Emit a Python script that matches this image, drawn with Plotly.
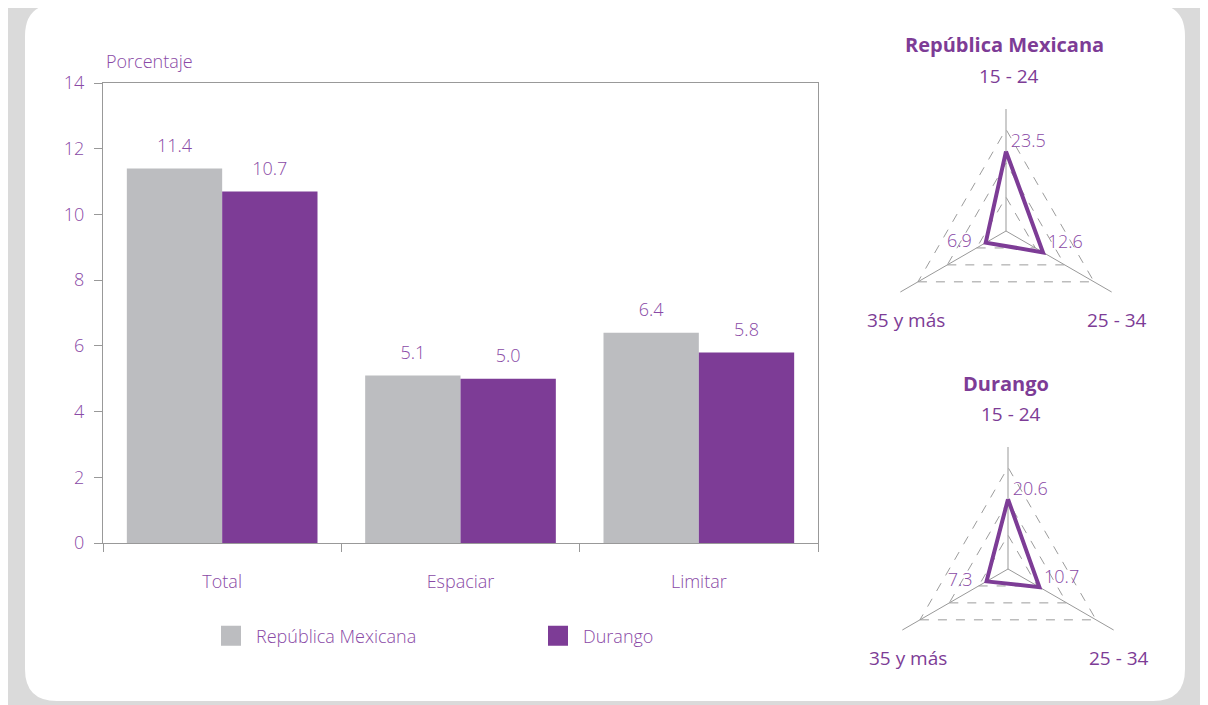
import plotly.graph_objects as go

# ---- data ----
categories = ["Total", "Espaciar", "Limitar"]
rep_mex = [11.4, 5.1, 6.4]
durango = [10.7, 5.0, 5.8]
series_names = ["República Mexicana", "Durango"]

radar_axes = ["15 - 24", "25 - 34", "35 y más"]
radar_rep = [23.5, 12.6, 6.9]
radar_dgo = [20.6, 10.7, 7.3]
radar_titles = ["República Mexicana", "Durango"]

y_ticks = [0, 2, 4, 6, 8, 10, 12, 14]

# ---- style ----
GRAY_BAR = "#bcbdc0"
PURPLE = "#7d3c96"
TXT = "#8a4aa6"
AXIS = "#999999"
FONT = "Open Sans"
W, H = 1208, 705
OFF = 8  # page offset of the figure inside the browser window
LIGHT = dict(family=FONT, size=18, color=TXT, weight=300)


def px(X):
    return (X - OFF) / W


def py(Y):
    return 1 - (Y - OFF) / H


fig = go.Figure()

# bars
for name, vals, col, og in [(series_names[0], rep_mex, GRAY_BAR, "a"),
                             (series_names[1], durango, PURPLE, "b")]:
    fig.add_trace(go.Bar(x=categories, y=vals, name=name, marker=dict(color=col, line=dict(width=0)),
                         offsetgroup=og, showlegend=False, hoverinfo="skip"))
# value labels (grouped scatter aligned with bars)
for vals, og in [(rep_mex, "a"), (durango, "b")]:
    fig.add_trace(go.Scatter(x=categories, y=vals, mode="markers+text", offsetgroup=og,
                             text=[f"{v:.1f}" for v in vals], textposition="top center",
                             textfont=LIGHT, marker=dict(size=18, opacity=0), showlegend=False,
                             hoverinfo="skip", cliponaxis=False))
# legend entries
for name, col in [(series_names[0], GRAY_BAR), (series_names[1], PURPLE)]:
    fig.add_trace(go.Scatter(x=[None], y=[None], mode="markers", name=name,
                             marker=dict(symbol="square", size=16, color=col, line=dict(color=col, width=4))))

# radars
centers = [(1006, 231), (1008, 569)]
R_PX = 122
domains = [dict(x=[px(cx - R_PX), px(cx + R_PX)], y=[py(cy + R_PX), py(cy - R_PX)]) for cx, cy in centers]
for i, vals in enumerate([radar_rep, radar_dgo]):
    pid = "polar" if i == 0 else "polar2"
    fig.add_trace(go.Scatterpolar(r=vals + [vals[0]], theta=radar_axes + [radar_axes[0]],
                                  mode="lines", line=dict(color=PURPLE, width=4),
                                  subplot=pid, showlegend=False, hoverinfo="skip"))
    fig.add_trace(go.Scatterpolar(r=vals, theta=radar_axes, mode="text",
                                  text=[f" {vals[0]:.1f}", f" {vals[1]:.1f}", f"{vals[2]:.1f}   "],
                                  textposition=["top right", "top right", "middle left"],
                                  textfont=LIGHT, subplot=pid, showlegend=False, hoverinfo="skip"))

polar_common = dict(
    bgcolor="rgba(0,0,0,0)",
    gridshape="linear",
    radialaxis=dict(range=[0, 36], tickvals=[10, 20, 30], showticklabels=False, ticks="",
                    showline=False, gridcolor="#9c9c9c", griddash="dash", gridwidth=1.1),
    angularaxis=dict(categoryorder="array", categoryarray=radar_axes, rotation=90,
                     direction="clockwise", showticklabels=False, ticks="", showline=False,
                     gridcolor=AXIS, gridwidth=1.4),
)

annotations = [
    dict(text="Porcentaje", x=px(104), y=py(61), xref="paper", yref="paper",
         xanchor="left", yanchor="middle", showarrow=False, font=LIGHT),
]
# radar titles and axis labels
for (cx, cy), title in zip(centers, radar_titles):
    annotations.append(dict(text=f"<b>{title}</b>", x=px(cx - 2), y=py(cy - 186),
                            xref="paper", yref="paper", xanchor="center", yanchor="middle",
                            showarrow=False, font=dict(family=FONT, size=20, color=PURPLE, weight=700)))
    offs = [(3, -155), (111, 89), (-100, 89)]
    for lab, (dx, dy) in zip(radar_axes, offs):
        annotations.append(dict(text=lab, x=px(cx + dx), y=py(cy + dy),
                                xref="paper", yref="paper", xanchor="center", yanchor="middle",
                                showarrow=False, font=dict(family=FONT, size=19, color=PURPLE, weight=400)))

# card background
x0, x1 = px(25), px(1185)
y0, y1 = py(701), py(4)
rx, ry = 32 / W, 32 / H
card = (f"M{x0+rx},{y0} L{x1-rx},{y0} Q{x1},{y0} {x1},{y0+ry} L{x1},{y1-ry} Q{x1},{y1} {x1-rx},{y1} "
        f"L{x0+rx},{y1} Q{x0},{y1} {x0},{y1-ry} L{x0},{y0+ry} Q{x0},{y0} {x0+rx},{y0} Z")

fig.update_layout(
    width=W, height=H, margin=dict(l=0, r=0, t=0, b=0, autoexpand=False),
    paper_bgcolor="#dadada", plot_bgcolor="rgba(0,0,0,0)",
    font=dict(family=FONT, size=18, color=TXT),
    barmode="group", bargap=0.2, bargroupgap=0,
    scattermode="group", scattergap=0.2,
    xaxis=dict(domain=[px(103), px(818)], showline=True, linecolor=AXIS, linewidth=1.2, mirror=True,
               ticks="outside", tickson="boundaries", ticklen=8, tickcolor=AXIS, tickwidth=1.2,
               tickfont=LIGHT, ticklabelstandoff=22, automargin=False,
               showgrid=False, zeroline=False),
    yaxis=dict(domain=[py(543), py(83)], range=[0, 14], tickvals=y_ticks,
               showline=True, linecolor=AXIS, linewidth=1.2, mirror=True,
               ticks="outside", ticklen=8, tickcolor=AXIS, tickwidth=1.2,
               tickfont=LIGHT, ticklabelstandoff=6, automargin=False,
               showgrid=False, zeroline=False),
    polar=dict(domain=domains[0], **polar_common),
    polar2=dict(domain=domains[1], **polar_common),
    legend=dict(orientation="h", x=px(206), y=py(636), xanchor="left", yanchor="middle",
                itemwidth=40, entrywidth=272, font=LIGHT,
                bgcolor="rgba(0,0,0,0)", itemclick=False),
    annotations=annotations,
    shapes=[dict(type="path", path=card, xref="paper", yref="paper", fillcolor="white",
                 line=dict(width=0), layer="below")],
    showlegend=True,
)

fig.write_html("out.html")
